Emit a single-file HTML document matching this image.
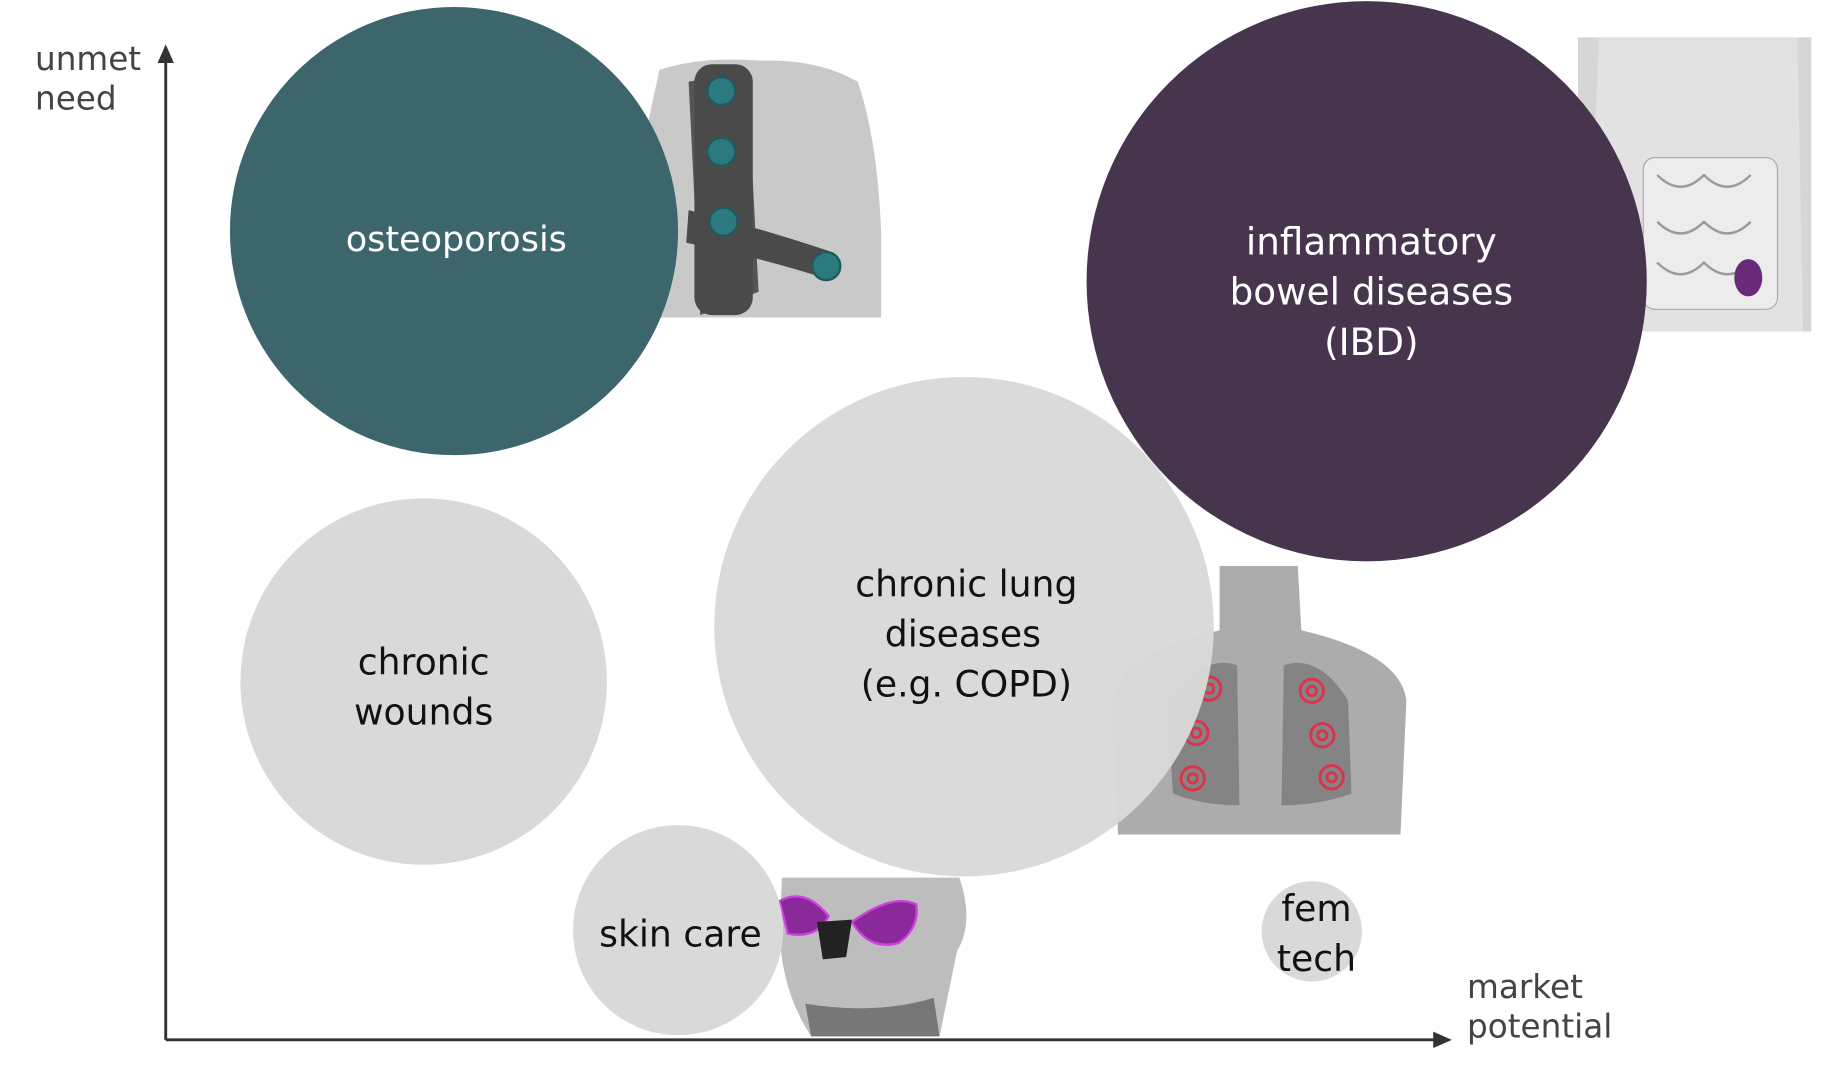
<!DOCTYPE html>
<html><head><meta charset="utf-8"><style>
html,body{margin:0;padding:0;background:#fff;width:1830px;height:1080px;overflow:hidden}
svg{display:block}
text{font-family:"DejaVu Sans","Liberation Sans",sans-serif}
</style></head><body>
<svg width="1830" height="1080" viewBox="0 0 1568 925.4" preserveAspectRatio="none">
<defs>
<marker id="ar" markerUnits="userSpaceOnUse" markerWidth="16" markerHeight="14" refX="2" refY="7" orient="auto"><path d="M0,0 L16,7 L0,14 z" fill="#333"/></marker>
</defs>
<!-- axes -->
<line x1="142" y1="891" x2="142" y2="52" stroke="#333" stroke-width="2.5" marker-end="url(#ar)"/>
<line x1="142" y1="891" x2="1230" y2="891" stroke="#333" stroke-width="2.5" marker-end="url(#ar)"/>
<g fill="#444" font-size="28">
<text x="30" y="60">unmet</text><text x="30" y="94">need</text>
<text x="1257" y="855">market</text><text x="1257" y="889">potential</text>
</g>

<!-- back brace image -->
<g>
<path d="M565,60 Q600,48 650,52 Q700,50 735,70 Q752,120 755,200 L755,272 L560,272 Q548,200 552,120 Z" fill="#c9c9c9"/>
<path d="M590,70 L640,60 L650,250 L600,270 Z" fill="#555"/>
<rect x="595" y="55" width="50" height="215" rx="15" fill="#4a4a4a"/>
<path d="M590,180 Q650,195 710,215 L712,240 Q650,220 588,208 Z" fill="#4a4a4a"/>
<g fill="#2b7a80" stroke="#1f5a5e" stroke-width="2">
<circle cx="618" cy="78" r="12"/><circle cx="618" cy="130" r="12"/><circle cx="620" cy="190" r="12"/><circle cx="708" cy="228" r="12"/>
</g>
</g>

<!-- torso image -->
<g>
<rect x="1352" y="32" width="200" height="252" fill="#d6d6d6"/>
<path d="M1370,32 L1540,32 L1545,284 L1360,284 Z" fill="#e2e2e2"/>
<rect x="1408" y="135" width="115" height="130" rx="10" fill="#ececec" stroke="#aaa"/>
<path d="M1420,150 q20,20 40,0 q20,20 40,0 M1420,190 q20,20 40,0 q20,20 40,0 M1420,225 q20,20 40,0 q20,20 40,0" fill="none" stroke="#999" stroke-width="2"/>
<ellipse cx="1498" cy="238" rx="12" ry="16" fill="#6a2a7a"/>
</g>

<!-- lung image -->
<g opacity="0.85">
<path d="M1045,485 L1112,485 L1115,540 Q1200,560 1205,600 L1200,715 L958,715 L953,600 Q960,560 1045,540 Z" fill="#9e9e9e"/>
<path d="M1000,600 Q1030,560 1060,570 L1062,690 Q1030,690 1005,680 Z" fill="#6f6f6f"/>
<path d="M1155,600 Q1130,560 1100,570 L1098,690 Q1130,690 1158,680 Z" fill="#6f6f6f"/>
<g fill="none" stroke="#d8102a" stroke-width="2.5">
<circle cx="1036" cy="590" r="10"/><circle cx="1036" cy="590" r="4"/>
<circle cx="1025" cy="628" r="10"/><circle cx="1025" cy="628" r="4"/>
<circle cx="1022" cy="667" r="10"/><circle cx="1022" cy="667" r="4"/>
<circle cx="1124" cy="592" r="10"/><circle cx="1124" cy="592" r="4"/>
<circle cx="1133" cy="630" r="10"/><circle cx="1133" cy="630" r="4"/>
<circle cx="1141" cy="666" r="10"/><circle cx="1141" cy="666" r="4"/>
</g>
</g>

<!-- face image -->
<g>
<path d="M670,752 L822,752 Q835,790 820,815 L805,888 L695,888 Q670,850 668,800 Z" fill="#bdbdbd"/>
<path d="M690,860 Q750,870 800,855 L805,888 L695,888 Z" fill="#777"/>
<path d="M668,772 Q690,760 710,785 Q700,805 675,800 Z" fill="#8a2a9a" stroke="#d040e0" stroke-width="2"/>
<path d="M785,775 Q765,765 730,790 Q745,815 770,808 Q788,795 785,775 Z" fill="#8a2a9a" stroke="#d040e0" stroke-width="2"/>
<path d="M700,790 L730,788 L725,820 L705,822 Z" fill="#222"/>
</g>

<!-- circles -->
<circle cx="389" cy="198" r="192" fill="#3d666c"/>
<circle cx="1171" cy="241" r="240" fill="#46354d"/>
<circle cx="363" cy="584" r="157" fill="#d9d9d9"/>
<circle cx="826" cy="537" r="214" fill="#d9d9d9" opacity="0.97"/>
<circle cx="581" cy="797" r="90" fill="#d9d9d9"/>
<circle cx="1124" cy="798" r="43" fill="#d9d9d9"/>

<!-- labels -->
<g text-anchor="middle">
<text x="391" y="215" fill="#fff" font-size="30">osteoporosis</text>
<g fill="#fff" font-size="32"><text x="1175" y="218">inflammatory</text><text x="1175" y="261">bowel diseases</text><text x="1175" y="304">(IBD)</text></g>
<g fill="#111" font-size="31">
<text x="363" y="578">chronic</text><text x="363" y="621">wounds</text>
<text x="828" y="511">chronic lung</text><text x="825" y="554">diseases</text><text x="828" y="597">(e.g. COPD)</text>
<text x="583" y="811">skin care</text>
<text x="1128" y="789">fem</text><text x="1128" y="832">tech</text>
</g>
</g>
</svg>
</body></html>
